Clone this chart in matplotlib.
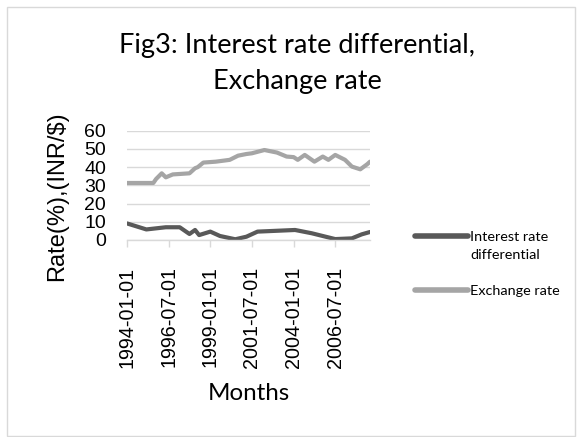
import matplotlib
matplotlib.use("Agg")
import matplotlib.pyplot as plt
from matplotlib.patches import Rectangle
import numpy as np
import pandas as pd

# ---- data ----
exch_dates = ["1994-01", "1995-08", "1995-10", "1996-02", "1996-05", "1996-10",
              "1997-10", "1998-02", "1998-04", "1998-08", "1999-05", "1999-10",
              "2000-03", "2000-09", "2001-03", "2001-07", "2002-04", "2003-01",
              "2003-08", "2004-01", "2004-04", "2004-09", "2005-04", "2005-10",
              "2006-02", "2006-07", "2007-02", "2007-07", "2008-01", "2008-06",
              "2008-08"]
exch_values = [31.3, 31.3, 33.5, 36.6, 34.4, 36.0,
               36.6, 39.4, 40.0, 42.5, 43.0, 43.5,
               44.0, 46.3, 47.2, 47.6, 49.4, 48.0,
               45.8, 45.5, 44.0, 46.7, 43.0, 45.8,
               44.0, 46.7, 44.0, 40.3, 38.8, 41.6,
               43.0]

ird_dates = ["1994-01", "1995-03", "1996-05", "1997-03", "1997-10", "1998-02",
             "1998-05", "1999-01", "1999-08", "2000-07", "2001-03", "2001-11",
             "2004-02", "2005-02", "2006-07", "2007-07", "2008-02", "2008-08"]
ird_values = [9.1, 5.8, 7.0, 7.0, 3.3, 5.5,
              2.7, 4.6, 2.2, 0.4, 1.8, 4.6,
              5.5, 3.7, 0.5, 0.9, 3.1, 4.4]

tick_labels = ["1994-01-01", "1996-07-01", "1999-01-01", "2001-07-01",
               "2004-01-01", "2006-07-01"]

series_names = ["Interest rate\ndifferential", "Exchange rate"]
x_start, x_end = "1994-01-01", "2008-08-01"

# ---- figure ----
W, H = 582, 437
fig = plt.figure(figsize=(W / 100, H / 100), dpi=100)
fig.patch.set_facecolor("white")
fig.add_artist(Rectangle((7 / W, 1 - 436 / H), (575 - 7) / W, (436 - 7) / H,
                         transform=fig.transFigure, fill=False,
                         edgecolor="#D9D9D9", lw=1.0))

left, right, top, bottom = 127, 370, 130.7, 240
ax = fig.add_axes([left / W, 1 - bottom / H, (right - left) / W, (bottom - top) / H])

dark = "#595959"
light = "#A5A5A5"
ax.plot(pd.to_datetime(ird_dates), ird_values, color=dark, lw=3.0,
        solid_capstyle="round", solid_joinstyle="round", label=series_names[0])
ax.plot(pd.to_datetime(exch_dates), exch_values, color=light, lw=3.0,
        solid_capstyle="round", solid_joinstyle="round", label=series_names[1])

ax.set_xlim(pd.Timestamp(x_start), pd.Timestamp(x_end))
ax.set_ylim(0, 60)
ax.set_yticks(np.arange(0, 61, 10))
ax.grid(axis="y", color="#D9D9D9", lw=1.0)
ax.set_axisbelow(True)
for s in ["top", "right", "left"]:
    ax.spines[s].set_visible(False)
ax.spines["bottom"].set_color("#D9D9D9")
ax.spines["bottom"].set_linewidth(1.0)

ax.set_xticks(pd.to_datetime(tick_labels))
ax.set_xticklabels(tick_labels, rotation=90, fontfamily="Liberation Sans",
                   fontsize=14.2, color="#000000")
ax.tick_params(axis="x", direction="out", length=5, width=1, color="#D9D9D9", pad=14)
ax.tick_params(axis="y", length=0, pad=15, labelsize=14, colors="#000000")
for lbl in ax.get_yticklabels():
    lbl.set_fontfamily("Liberation Sans")

fig.text(297 / W, 1 - 46 / H, "Fig3: Interest rate differential,", ha="center",
         va="center", fontfamily="Lato", fontsize=19.5)
fig.text(297 / W, 1 - 82 / H, "Exchange rate", ha="center", va="center",
         fontfamily="Lato", fontsize=19.5)
fig.text(57.5 / W, 1 - 196.5 / H, "Rate(%),(INR/$)", rotation=90, ha="center",
         va="center", fontfamily="Liberation Sans", fontsize=17)
fig.text(249 / W, 1 - 393 / H, "Months", ha="center", va="center",
         fontfamily="Lato", fontsize=17.4)

leg = fig.legend(loc="upper left", bbox_to_anchor=(402 / W, 1 - 218 / H),
                 frameon=False, prop={"family": "Lato", "size": 10.4},
                 handlelength=3.7, handletextpad=0.1, labelspacing=1.7)
for t in leg.get_texts():
    t.set_linespacing(1.58)
for col in leg._legend_handle_box.get_children():
    for item in col.get_children():
        item.align = "top"
for h in leg.get_lines():
    h.set_linewidth(4.0)

fig.savefig("out.png", dpi=100)
